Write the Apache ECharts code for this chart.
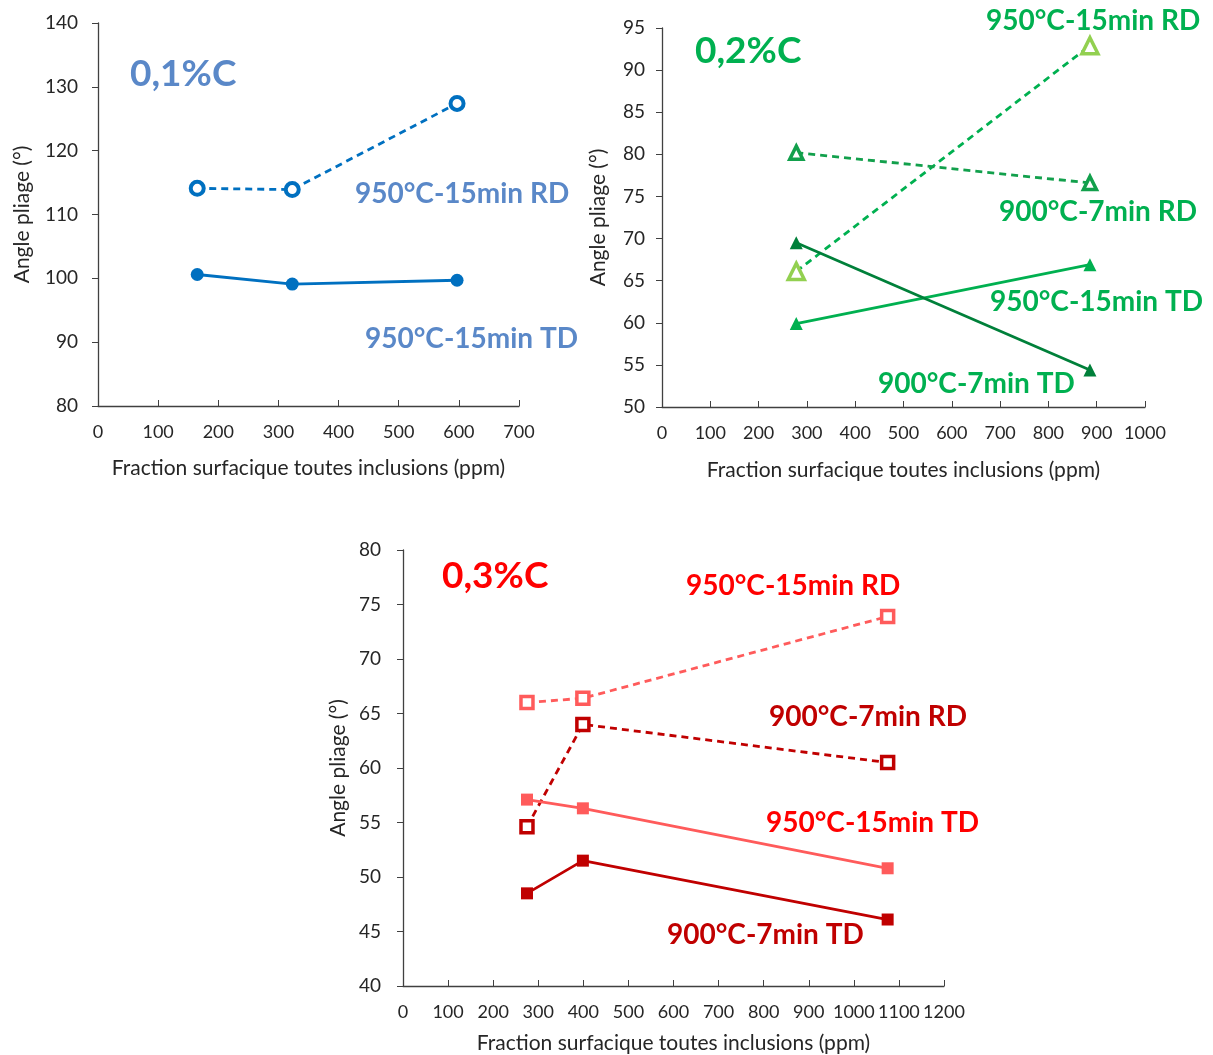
<!DOCTYPE html>
<html><head><meta charset="utf-8">
<script src="https://cdn.jsdelivr.net/npm/echarts@6/dist/echarts.min.js"></script>
<style>html,body{margin:0;padding:0;background:#fff}#c{width:1213px;height:1055px}</style>
</head><body><div id="c"></div>
<script>
// ---- Data ----
// Chart 1 : 0,1%C
const c1RDx = [165, 323, 597];
const c1RDy = [114.1, 113.9, 127.4];
const c1TDx = [165, 323, 597];
const c1TDy = [100.6, 99.1, 99.7];
// Chart 2 : 0,2%C
const c2x = [278, 886];
const c2_950RD = [66.1, 92.9];
const c2_900RD = [80.2, 76.6];
const c2_950TD = [59.9, 66.9];
const c2_900TD = [69.5, 54.4];
// Chart 3 : 0,3%C
const c3x = [275, 399, 1075];
const c3_950RD = [66.0, 66.4, 73.9];
const c3_900RD = [54.6, 64.0, 60.5];
const c3_950TD = [57.1, 56.3, 50.8];
const c3_900TD = [48.5, 51.5, 46.1];

const xName = 'Fraction surfacique toutes inclusions (ppm)';
const yName = 'Angle pliage (°)';

const FONT = 'Lato';
const pts = (xs, ys) => xs.map((x, i) => [x, ys[i]]);
const axisCol = '#404040';
const txtCol = '#262626';

function xAx(idx, max, gap) {
  return {
    type: 'value', gridIndex: idx, min: 0, max: max, interval: 100,
    name: xName, nameLocation: 'middle', nameGap: gap,
    nameTextStyle: {fontFamily: FONT, fontSize: 21, color: txtCol},
    axisLine: {lineStyle: {color: axisCol, width: 1.3}},
    axisTick: {inside: true, length: 6, lineStyle: {color: axisCol}},
    axisLabel: {fontFamily: FONT, fontSize: 18, color: txtCol, margin: 17, formatter: v => String(v)},
    splitLine: {show: false}
  };
}
function yAx(idx, min, max, interval, gap, margin) {
  return {
    type: 'value', gridIndex: idx, min: min, max: max, interval: interval,
    name: yName, nameLocation: 'middle', nameGap: gap, nameRotate: 90,
    nameTextStyle: {fontFamily: FONT, fontSize: 21, color: txtCol},
    axisLine: {show: true, lineStyle: {color: axisCol, width: 1.3}},
    axisTick: {show: true, length: 6, lineStyle: {color: axisCol}},
    axisLabel: {fontFamily: FONT, fontSize: 19, color: txtCol, margin: margin},
    splitLine: {show: false}
  };
}
function ser(idx, data, color, dashed, symbol, size, open, mcolor, bw) {
  const mc = mcolor || color;
  return {
    type: 'line', xAxisIndex: idx, yAxisIndex: idx, data: data,
    symbol: symbol, symbolSize: size, showSymbol: true,
    lineStyle: {color: color, width: 2.8, type: dashed ? [7, 5] : 'solid'},
    itemStyle: open ? {color: '#fff', borderColor: mc, borderWidth: bw || 3} : {color: mc, borderColor: mc, borderWidth: 0},
    animation: false, z: 3
  };
}
function lab(text, x, y, color, size) {
  return {type: 'text', left: x, top: y, style: {text: text, fill: color, font: 'bold ' + size + 'px ' + FONT}};
}

const blue = '#0070c0', blueTxt = '#5a88c8';
const g950 = '#00b050', g950m = '#92d050', g900 = '#12a04c', g900d = '#00803a', gTxt = '#00b050';
const r950 = '#ff5b5b', r900 = '#c00000', rTxt = '#ff0000';

const option = {
  backgroundColor: '#fff',
  animation: false,
  grid: [
    {left: 98, top: 23, width: 421, height: 383},
    {left: 662, top: 28, width: 483, height: 379},
    {left: 403, top: 550, width: 541, height: 436}
  ],
  xAxis: [xAx(0, 700, 52), xAx(1, 1000, 53), xAx(2, 1200, 47)],
  yAxis: [yAx(0, 80, 140, 10, 65, 20), yAx(1, 50, 95, 5, 53, 17), yAx(2, 40, 80, 5, 54, 22)],
  series: [
    ser(0, pts(c1RDx, c1RDy), blue, true, 'circle', 13, true, null, 4),
    ser(0, pts(c1TDx, c1TDy), blue, false, 'circle', 13, false),
    ser(1, pts(c2x, c2_950RD), g950, true, 'triangle', 16, true, g950m, 3.5),
    ser(1, pts(c2x, c2_900RD), g900, true, 'triangle', 13, true, null, 3.5),
    ser(1, pts(c2x, c2_950TD), g950, false, 'triangle', 13, false),
    ser(1, pts(c2x, c2_900TD), g900d, false, 'triangle', 13, false),
    ser(2, pts(c3x, c3_950RD), r950, true, 'rect', 12, true, null, 3.5),
    ser(2, pts(c3x, c3_900RD), r900, true, 'rect', 12, true, null, 3.5),
    ser(2, pts(c3x, c3_950TD), r950, false, 'rect', 12, false),
    ser(2, pts(c3x, c3_900TD), r900, false, 'rect', 12, false)
  ],
  graphic: [
    lab('0,1%C', 130, 56, blueTxt, 37),
    lab('950°C-15min RD', 355, 180, blueTxt, 28),
    lab('950°C-15min TD', 365, 325, blueTxt, 28),
    lab('0,2%C', 695, 33, gTxt, 37),
    lab('950°C-15min RD', 986, 7, gTxt, 28),
    lab('900°C-7min RD', 999, 198, gTxt, 28),
    lab('950°C-15min TD', 990, 288, gTxt, 28),
    lab('900°C-7min TD', 878, 370, gTxt, 28),
    lab('0,3%C', 442, 558, rTxt, 37),
    lab('950°C-15min RD', 686, 572, rTxt, 28),
    lab('900°C-7min RD', 769, 703, r900, 28),
    lab('950°C-15min TD', 766, 809, rTxt, 28),
    lab('900°C-7min TD', 667, 921, r900, 28)
  ]
};
const chart = echarts.init(document.getElementById('c'), null, {renderer: 'canvas'});
chart.setOption(option);
</script></body></html>
